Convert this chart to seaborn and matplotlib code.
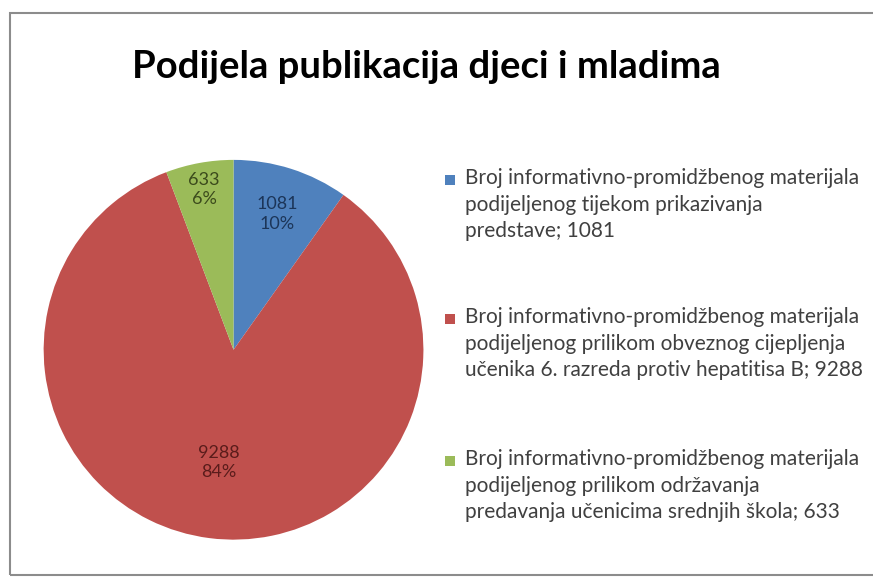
import numpy as np
import matplotlib
matplotlib.use("Agg")
import matplotlib.pyplot as plt
import seaborn as sns
from matplotlib.patches import Rectangle

# Data
labels = [
    "Broj informativno-promidžbenog materijala\npodijeljenog tijekom prikazivanja\npredstave; 1081",
    "Broj informativno-promidžbenog materijala\npodijeljenog prilikom obveznog cijepljenja\nučenika 6. razreda protiv hepatitisa B; 9288",
    "Broj informativno-promidžbenog materijala\npodijeljenog prilikom održavanja\npredavanja učenicima srednjih škola; 633",
]
counts = [1081, 9288, 633]
title = "Podijela publikacija djeci i mladima"

colors = sns.color_palette(["#4F81BD", "#C0504D", "#9BBB59"])
text_colors = ["#1C3558", "#5A1C1B", "#3B4A1C"]
label_dist = [0.75, 0.60, 0.86]

sns.set_theme(style="white")
plt.rcParams["font.family"] = ["Lato", "DejaVu Sans"]

W, H = 873, 581
fig = plt.figure(figsize=(W / 100, H / 100), dpi=100)
fig.patch.set_facecolor("white")

# outer chart frame
fig.add_artist(Rectangle((0.012, 0.01), 1.2, 0.968, transform=fig.transFigure,
                         fill=False, edgecolor="#8c8c8c", linewidth=1.5))

ax = fig.add_axes([0.050, 0.071, 0.435, 0.654])
total = sum(counts)
wedges, _ = ax.pie(counts, colors=colors, startangle=90, counterclock=False,
                   wedgeprops=dict(linewidth=0))
ax.set_xlim(-1, 1)
ax.set_ylim(-1, 1)
ax.set_aspect("equal")

for w, v, c, d in zip(wedges, counts, text_colors, label_dist):
    ang = np.deg2rad((w.theta1 + w.theta2) / 2)
    ax.text(d * np.cos(ang), d * np.sin(ang), f"{v}\n{round(v / total * 100)}%",
            ha="center", va="center", fontsize=13, color=c, linespacing=1.25)

fig.text(0.488, 0.884, title, ha="center", va="center", fontsize=27.5,
         fontweight="bold", color="black")

# legend: square marker aligned with the first line of each entry
legend_top = [180, 319, 461]
for w, lab, y in zip(wedges, labels, legend_top):
    fig.add_artist(Rectangle((445 / W, 1 - (y + 5) / H), 10 / W, 10 / H,
                             transform=fig.transFigure, facecolor=w.get_facecolor(),
                             edgecolor="none"))
    fig.text(465 / W, 1 - (y - 12) / H, lab, ha="left", va="top", fontsize=15,
             color="#404040", linespacing=1.42, transform=fig.transFigure)

fig.savefig("out.png", dpi=100)
